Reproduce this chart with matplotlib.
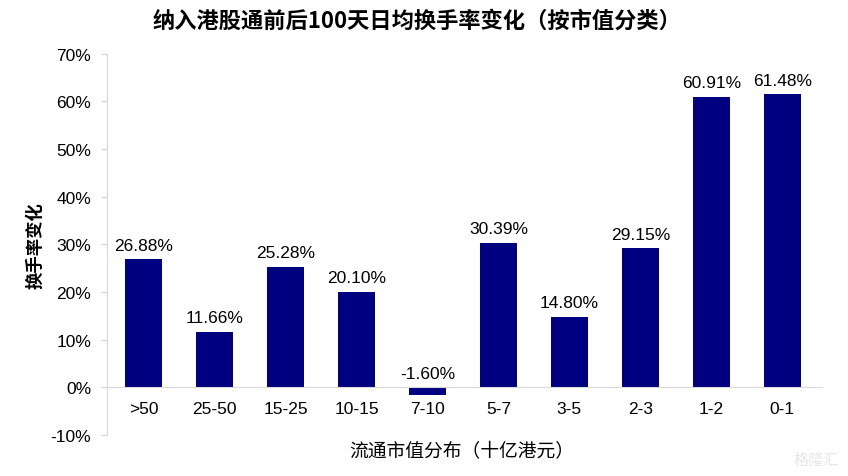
import matplotlib.pyplot as plt
import numpy as np

plt.rcParams['font.family'] = ['Noto Sans CJK SC', 'DejaVu Sans']

categories = ['>50', '25-50', '15-25', '10-15', '7-10', '5-7', '3-5', '2-3', '1-2', '0-1']
values = [26.88, 11.66, 25.28, 20.10, -1.60, 30.39, 14.80, 29.15, 60.91, 61.48]

latin = ['Liberation Sans', 'DejaVu Sans']

fig = plt.figure(figsize=(8.48, 4.77), dpi=100)
ax = fig.add_axes([0.1262, 0.086, 0.843, 0.799])

x = np.arange(len(categories))
ax.bar(x, values, width=0.52, color='#000080')

for xi, v in zip(x, values):
    ax.text(xi, max(v, 0) + 1.4, f'{v:.2f}%', ha='center', va='bottom',
            fontsize=12.5, family=latin)

ax.set_ylim(-10, 70)
ax.set_xlim(-0.52, 9.56)
ax.set_yticks(range(-10, 71, 10))
ax.set_yticklabels([f'{t}%' for t in range(-10, 71, 10)], family=latin, fontsize=12.5)
ax.tick_params(axis='y', length=4.5, width=1, color='#d9d9d9', pad=7)

ax.spines['top'].set_visible(False)
ax.spines['right'].set_visible(False)
ax.spines['left'].set_color('#d9d9d9')
ax.spines['bottom'].set_position(('data', 0))
ax.spines['bottom'].set_color('#d9d9d9')

ax.set_xticks(x)
ax.set_xticklabels(categories, family=latin, fontsize=12.5)
ax.tick_params(axis='x', length=0, pad=10)

ax.set_ylabel('换手率变化', fontsize=12.5, fontweight='bold', labelpad=4)
fig.text(0.545, 0.052, '流通市值分布（十亿港元）', ha='center', va='center', fontsize=13.5)
fig.text(0.492, 0.956, '纳入港股通前后100天日均换手率变化（按市值分类）',
         ha='center', va='center', fontsize=16, fontweight='bold')

fig.text(0.99, 0.035, '格隆汇', ha='right', va='center', fontsize=11, color='#e6e6e6')

fig.savefig('out.png', dpi=100)
